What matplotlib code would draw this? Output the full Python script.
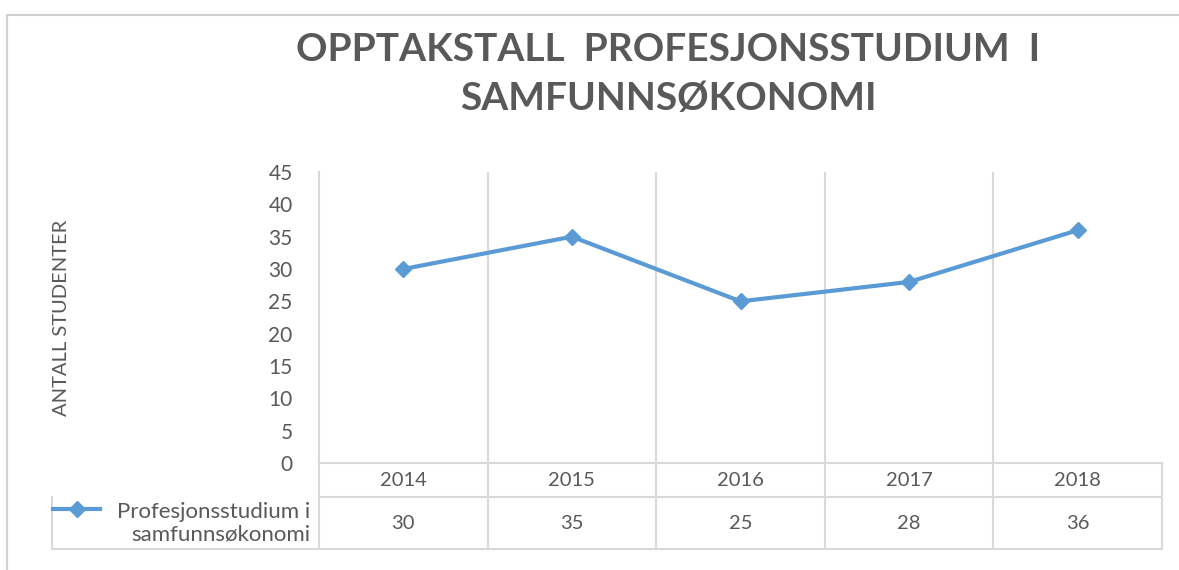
import numpy as np
import matplotlib
matplotlib.use('Agg')
import matplotlib.pyplot as plt
from matplotlib.patches import Rectangle
from matplotlib.lines import Line2D

plt.rcParams['font.family'] = ['Lato', 'DejaVu Sans']

years = ['2014', '2015', '2016', '2017', '2018']
students = [30, 35, 25, 28, 36]
series_name = 'Profesjonsstudium i\nsamfunnsøkonomi'
title = 'OPPTAKSTALL  PROFESJONSSTUDIUM  I\nSAMFUNNSØKONOMI'
ylabel = 'ANTALL STUDENTER'

W, H = 1179, 570
blue = '#5B9BD5'
grid = '#D9D9D9'
txt = '#595959'

fig = plt.figure(figsize=(W / 100, H / 100), dpi=100)

# outer chart border
fig.patches.append(Rectangle((7 / W, 0 - 0.05), 1.1, 1 - 15 / H + 0.05,
                             transform=fig.transFigure, fill=False,
                             edgecolor='#D0D0D0', linewidth=1.5))

x = np.arange(len(years))

ax = fig.add_axes([319 / W, 1 - 463 / H, (1162 - 319) / W, (463 - 172) / H])
ax.plot(x, students, color=blue, linewidth=3, marker='D', markersize=8,
        markerfacecolor=blue, markeredgecolor=blue)
ax.set_xlim(-0.5, len(years) - 0.5)
ax.set_ylim(0, 45)
ax.set_yticks(np.arange(0, 46, 5))
ax.set_xticks([])
for b in np.arange(0.5, len(years) - 0.5, 1):
    ax.axvline(b, color=grid, linewidth=1.5, zorder=0)
for s in ['top', 'right']:
    ax.spines[s].set_visible(False)
for s in ['left', 'bottom']:
    ax.spines[s].set_color(grid)
    ax.spines[s].set_linewidth(1.5)
ax.tick_params(axis='y', length=0, colors=txt, labelsize=15, pad=19)
ax.set_ylabel(ylabel, color=txt, fontsize=14.5)
ax.yaxis.set_label_coords(-0.295, 0.5)

# data table below the plot
unit = (1162 - 319) / len(years)
left_ext = -0.5 - (319 - 52) / unit
tax = fig.add_axes([52 / W, 1 - 549 / H, (1162 - 52) / W, (549 - 463) / H])
tax.set_xlim(left_ext, len(years) - 0.5)
tax.set_ylim(2, 0)
tax.axis('off')
lk = dict(color=grid, linewidth=1.5, clip_on=False)
tax.plot([-0.5, len(years) - 0.5], [0.8, 0.8], **lk)
tax.plot([left_ext, len(years) - 0.5], [2, 2], **lk)
tax.plot([left_ext, left_ext], [0.8, 2], **lk)
for b in np.arange(-0.5, len(years), 1):
    tax.plot([b, b], [0, 2], **lk)
for i, (yr, v) in enumerate(zip(years, students)):
    tax.text(i, 0.4, yr, ha='center', va='center', color=txt, fontsize=14.5)
    tax.text(i, 1.4, str(v), ha='center', va='center', color=txt, fontsize=14.5)
tax.text(-0.55, 1.4, series_name, ha='right', va='center', color=txt,
         fontsize=16, linespacing=1.15)
tax.add_line(Line2D([left_ext + 0.006, left_ext + 0.15, left_ext + 0.285],
                    [1.07, 1.07, 1.07], color=blue, linewidth=3, marker='D',
                    markersize=8, markevery=[1], clip_on=False))

fig.text(668 / W, 1 - 74 / H, title, ha='center', va='center', color=txt,
         fontsize=28, fontweight='bold', linespacing=1.5)

fig.savefig('out.png', dpi=100)
